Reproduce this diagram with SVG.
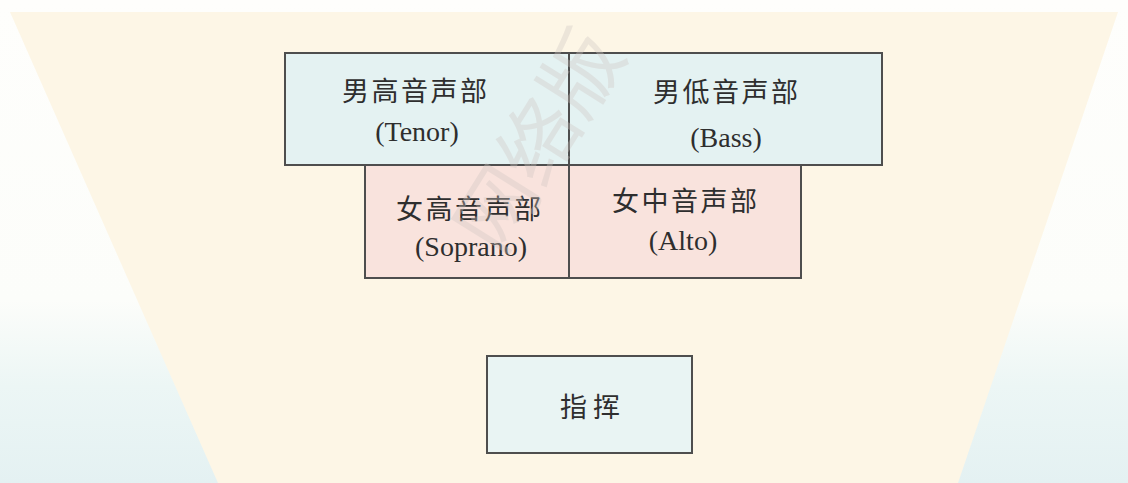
<svg xmlns="http://www.w3.org/2000/svg" width="1128" height="483" viewBox="0 0 1128 483">
<defs>
<linearGradient id="sky" x1="0" y1="0" x2="0" y2="1">
<stop offset="0" stop-color="#fefefc"/>
<stop offset="0.62" stop-color="#fcfdfa"/>
<stop offset="0.8" stop-color="#ecf6f5"/>
<stop offset="1" stop-color="#e4f1f2"/>
</linearGradient>
<style>
.box{stroke:#4e4e4e;stroke-width:2}
.male{fill:#e4f2f2}
.female{fill:#f9e3dd}
.cond{fill:#e9f4f3}
.cjk{font-family:"Noto Sans CJK SC","Noto Sans CJK JP",sans-serif;font-size:27px;fill:#2e2e2e;letter-spacing:2.5px}
.lat{font-family:"Liberation Serif","Times New Roman",serif;font-size:28px;fill:#2e2e2e;text-anchor:middle}
.wm{font-family:"Noto Sans CJK SC",sans-serif;font-size:80px;fill:#cfc6c2;opacity:0.35}
</style>
</defs>
<rect x="0" y="0" width="1128" height="483" fill="url(#sky)"/>
<polygon points="10,12 1118,12 958,483 218,483" fill="#fdf6e6"/>
<g id="tenor">
<rect class="box male" x="285" y="53" width="284" height="112"/>
<text class="cjk" x="342" y="101">男高音声部</text>
<text class="lat" x="417" y="141">(Tenor)</text>
</g>
<g id="bass">
<rect class="box male" x="569" y="53" width="313" height="112"/>
<text class="cjk" x="653" y="102">男低音声部</text>
<text class="lat" x="726" y="147">(Bass)</text>
</g>
<g id="soprano">
<rect class="box female" x="365" y="165" width="204" height="113"/>
<text class="cjk" x="396" y="219">女高音声部</text>
<text class="lat" x="471" y="256">(Soprano)</text>
</g>
<g id="alto">
<rect class="box female" x="569" y="165" width="232" height="113"/>
<text class="cjk" x="612" y="211">女中音声部</text>
<text class="lat" x="683" y="250">(Alto)</text>
</g>
<g id="conductor">
<rect class="box cond" x="487" y="356" width="205" height="97"/>
<text class="cjk" x="590" y="417" style="text-anchor:middle;letter-spacing:0;font-size:27px">指 挥</text>
</g>
<g id="connectors"></g>
<text class="wm" transform="translate(500,258) rotate(-58)">网络版</text>
</svg>
